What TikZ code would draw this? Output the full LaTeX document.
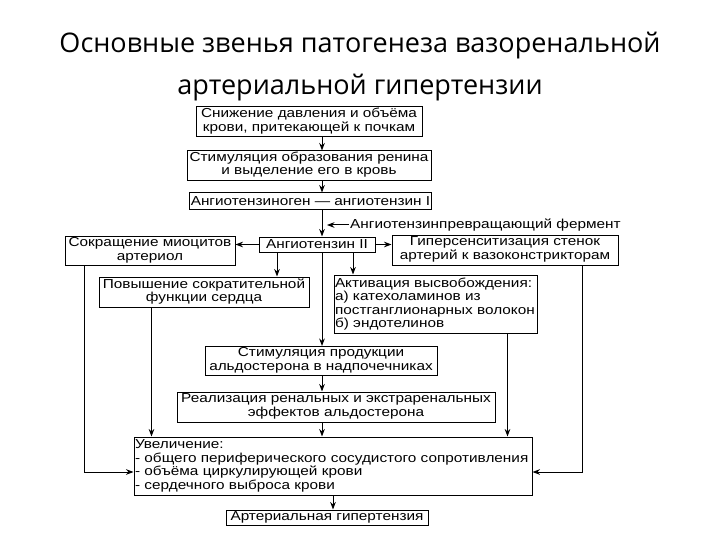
\documentclass[tikz,border=0pt]{standalone}
\usepackage{fontspec}
\setmainfont{Liberation Sans}[FakeStretch=1.18]
\newfontfamily\titlefont{Open Sans}
\usetikzlibrary{arrows.meta, calc}
\newcommand{\ctext}[1]{\begin{tabular}{@{}c@{}}#1\end{tabular}}
\tikzstyle{block} = [draw=black, line width=1pt, inner sep=1pt, font=\fontsize{13}{13.5}\selectfont]
\tikzstyle{lblock} = [block, align=left, anchor=center]
\tikzstyle{arrow} = [line width=1pt, ->, >=Stealth]

\begin{document}
\begin{tikzpicture}[x=1pt, y=-1pt]
    \useasboundingbox (0,0) rectangle (720,540);
    % title
    \node[font=\titlefont\fontsize{27}{42}\selectfont, align=center] (title) at (360,67)
        {Основные звенья патогенеза вазоренальной\\артериальной гипертензии};
    % main chain
    \coordinate (axis) at (322,0);
    \node[block, minimum width=226pt, minimum height=30pt] (snizh) at (309,122)
        {\ctext{Снижение давления и объёма\\крови, притекающей к почкам}};
    \node[block, minimum width=244pt, minimum height=29pt] (renin) at (309,165.5)
        {\ctext{Стимуляция образования ренина\\и выделение его в кровь}};
    \node[block, minimum width=241pt, minimum height=17pt] (angI) at (310.5,201.5)
        {Ангиотензиноген --- ангиотензин I};
    \node[block, minimum width=116pt, minimum height=15pt] (angII) at (317,244.5)
        {Ангиотензин II};
    \node[font=\fontsize{13}{13.5}\selectfont, anchor=west, inner sep=1pt] (ferment) at (349,225)
        {Ангиотензинпревращающий фермент};
    \node[block, minimum width=170pt, minimum height=28pt] (sokr) at (150,251)
        {\ctext{Сокращение миоцитов\\артериол}};
    \node[block, minimum width=226pt, minimum height=30pt] (giper) at (505,250)
        {\ctext{Гиперсенситизация стенок\\артерий к вазоконстрикторам}};
    \node[block, minimum width=210pt, minimum height=30pt] (povysh) at (204,292)
        {\ctext{Повышение сократительной\\функции сердца}};
    \node[lblock, text width=201pt, minimum height=58pt] (aktiv) at (435.5,304)
        {Активация высвобождения:\\а) катехоламинов из\\постганглионарных волокон\\б) эндотелинов};
    \node[block, minimum width=232pt, minimum height=28pt] (aldo) at (321,361)
        {\ctext{Стимуляция продукции\\альдостерона в надпочечниках}};
    \node[block, minimum width=318pt, minimum height=30pt] (real) at (336,407)
        {\ctext{Реализация ренальных и экстраренальных\\эффектов альдостерона}};
    \node[lblock, text width=396pt, minimum height=58pt] (uvel) at (333,466)
        {Увеличение:\\- общего периферического сосудистого сопротивления\\- объёма циркулирующей крови\\- сердечного выброса крови};
    \node[block, minimum width=202pt, minimum height=15pt] (ag) at (327,517.5)
        {Артериальная гипертензия};
    % branch points
    \coordinate (toPovysh) at ($(angII.south)+(-40,0)$);
    \coordinate (toAktiv) at ($(angII.south)+(36,0)$);
    \coordinate (fromPovysh) at ($(povysh.south west)+(53,0)$);
    \coordinate (fromAktiv) at ($(aktiv.south east)+(-30,0)$);
    \coordinate (fromSokr) at ($(sokr.south west)+(20,0)$);
    \coordinate (fromGiper) at ($(giper.south east)+(-36,0)$);
    \coordinate (uvelW) at ($(uvel.west)+(0,6)$);
    \coordinate (uvelE) at ($(uvel.east)+(0,6)$);
    \coordinate (fermentEnd) at ($(ferment.west -| axis)+(5,0)$);
    % connectors
    \draw[arrow] (snizh.south -| axis) -- (renin.north -| axis);
    \draw[arrow] (renin.south -| axis) -- (angI.north -| axis);
    \draw[arrow] (angI.south -| axis) -- (angII.north -| axis);
    \draw[arrow] (ferment.west) -- (fermentEnd);
    \draw[arrow] (angII.west) -- (angII.west -| sokr.east);
    \draw[arrow] (angII.east) -- (angII.east -| giper.west);
    \draw[arrow] (toPovysh) -- (toPovysh |- povysh.north);
    \draw[arrow] (toAktiv) -- (toAktiv |- aktiv.north);
    \draw[arrow] (angII.south -| axis) -- (aldo.north -| axis);
    \draw[arrow] (aldo.south -| axis) -- (real.north -| axis);
    \draw[arrow] (real.south -| axis) -- (uvel.north -| axis);
    \draw[arrow] (fromPovysh) -- (fromPovysh |- uvel.north);
    \draw[arrow] (fromAktiv) -- (fromAktiv |- uvel.north);
    \draw[arrow] (fromSokr) |- (uvelW);
    \draw[arrow] (fromGiper) |- (uvelE);
    \draw[arrow] (uvel.south) -- (uvel.south |- ag.north);
\end{tikzpicture}
\end{document}
